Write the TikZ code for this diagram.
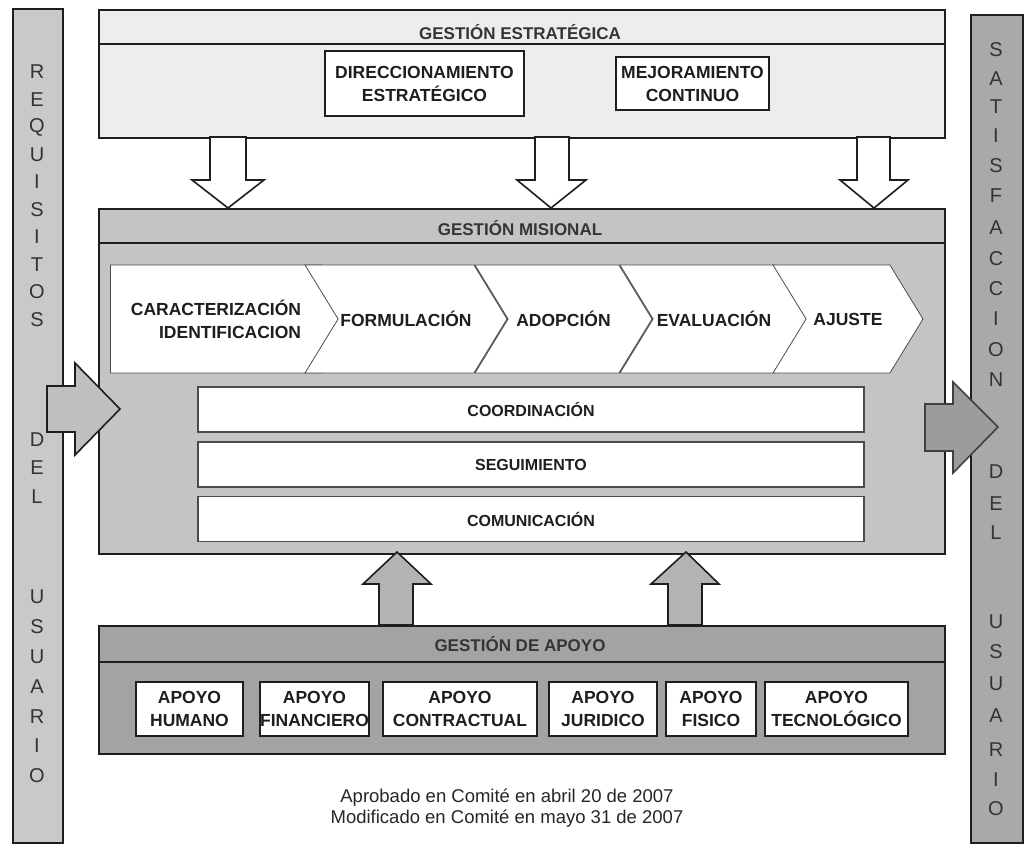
\documentclass[tikz,border=0pt]{standalone}
\usepackage{fontspec}
\setmainfont{Liberation Sans}
\usepackage{tikz}
\usetikzlibrary{shapes.symbols}

\definecolor{panelgray}{HTML}{EDEDED}
\definecolor{misgray}{HTML}{C4C4C4}
\definecolor{apogray}{HTML}{A3A3A3}
\definecolor{leftgray}{HTML}{C9C9C9}
\definecolor{rightgray}{HTML}{A9A9A9}
\definecolor{upgray}{HTML}{B3B3B3}
\definecolor{outgray}{HTML}{9C9C9C}
\definecolor{inkgray}{HTML}{1E1E1E}

\begin{document}
\begin{tikzpicture}[
  x=1pt, y=-1pt,
  panel/.style={
    rectangle, draw=inkgray, line width=2pt,
    anchor=north west, inner sep=0pt
  },
  card/.style={
    rectangle, draw=inkgray, line width=1.2pt, fill=white,
    inner sep=0pt, align=center, text=inkgray,
    font=\bfseries\fontsize{17.5}{23}\selectfont
  },
  bar/.style={
    rectangle, draw=inkgray!80, line width=1.2pt, fill=white,
    inner sep=0pt, minimum width=666, minimum height=45,
    text=inkgray, font=\bfseries\fontsize{16}{19}\selectfont
  },
  chev/.style={
    signal, signal to=east, signal pointer angle=117,
    draw=black!70, line width=0.8pt, fill=white,
    minimum height=108, inner sep=0pt, align=right, text=inkgray,
    font=\bfseries\fontsize{17.5}{23}\selectfont
  },
  ttl/.style={anchor=base, text=inkgray!90, font=\bfseries\fontsize{17}{20}\selectfont},
  letter/.style={text=black!80, font=\fontsize{20}{22}\selectfont, inner sep=0pt},
  blockarr/.style={draw=inkgray, line width=1.6pt, line join=miter},
  note/.style={anchor=base, text=black!85, font=\fontsize{18.5}{22}\selectfont}
]
\useasboundingbox (0,0) rectangle (1031,846);

% side bars
\node[panel, fill=leftgray, line width=1.5pt, minimum width=50, minimum height=834] (reqbar) at (12,8) {};
\node[panel, fill=rightgray, line width=1.5pt, minimum width=52, minimum height=828] (satbar) at (970,14) {};
\foreach \ly/\lc in {72/R,100/E,127/Q,155/U,182/I,210/S,237/I,265/T,292/O,320/S,
                     440/D,468/E,497/L,597/U,627/S,657/U,687/A,717/R,746/I,776/O}
  \node[letter] (req\ly) at (37,\ly) {\lc};
\foreach \ly/\lc in {50/S,79/A,107/T,136/I,166/S,196/F,228/A,259/C,289/C,319/I,350/O,380/N,
                     472/D,504/E,533/L,622/U,652/S,684/U,716/A,750/R,780/I,809/O}
  \node[letter] (sat\ly) at (996,\ly) {\lc};

% gestion estrategica
\node[panel, fill=panelgray, minimum width=846, minimum height=128] (estrategica) at (98,9) {};
\draw[line width=1.6pt, draw=inkgray] (98,44) -- (944,44);
\node[ttl] (estrategicaT) at (520,39) {GESTIÓN ESTRATÉGICA};
\node[card, minimum width=199, minimum height=65] (direcc) at (424.5,83.5) {DIRECCIONAMIENTO\\ESTRATÉGICO};
\node[card, minimum width=153, minimum height=53] (mejora) at (692.5,83.5) {MEJORAMIENTO\\CONTINUO};

% gestion misional
\node[panel, fill=misgray, minimum width=846, minimum height=345] (misional) at (98,208) {};
\draw[line width=1.6pt, draw=inkgray] (98,243) -- (944,243);
\node[ttl] (misionalT) at (520,235) {GESTIÓN MISIONAL};

\node[chev, minimum width=244] (caract) at (216,319) {CARACTERIZACIÓN\\IDENTIFICACION};
\node[chev, signal from=west, minimum width=202] (formul) at (406,319) {FORMULACIÓN};
\node[chev, signal from=west, minimum width=177] (adopc) at (563.5,319) {ADOPCIÓN};
\node[chev, signal from=west, minimum width=188] (evalua) at (714,319) {EVALUACIÓN};
\node[chev, signal from=west, minimum width=150] (ajuste) at (848,319) {AJUSTE};

\node[bar] (coord) at (531,409.5) {COORDINACIÓN};
\node[bar] (segui) at (531,464.5) {SEGUIMIENTO};
\node[bar] (comun) at (531,519) {COMUNICACIÓN};

% gestion de apoyo
\node[panel, fill=apogray, minimum width=846, minimum height=128] (apoyo) at (98,625) {};
\draw[line width=1.6pt, draw=inkgray] (98,662) -- (944,662);
\node[ttl] (apoyoT) at (520,651) {GESTIÓN DE APOYO};
\node[card, minimum width=107, minimum height=54] (humano) at (189.5,709) {APOYO\\HUMANO};
\node[card, minimum width=109, minimum height=54] (financ) at (314.5,709) {APOYO\\FINANCIERO};
\node[card, minimum width=154, minimum height=54] (contra) at (460,709) {APOYO\\CONTRACTUAL};
\node[card, minimum width=108, minimum height=54] (juridi) at (603,709) {APOYO\\JURIDICO};
\node[card, minimum width=90, minimum height=54] (fisico) at (711,709) {APOYO\\FISICO};
\node[card, minimum width=143, minimum height=54] (tecno) at (836.5,709) {APOYO\\TECNOLÓGICO};

% down arrows
\draw[blockarr, fill=white] (210,137) -- (246,137) -- (246,180) -- (264,180) -- (228,208) -- (192,180) -- (210,180) -- cycle;
\draw[blockarr, fill=white] (535,137) -- (569,137) -- (569,180) -- (586,180) -- (551,208) -- (517,180) -- (535,180) -- cycle;
\draw[blockarr, fill=white] (857,137) -- (890,137) -- (890,180) -- (908,180) -- (874,208) -- (840,180) -- (857,180) -- cycle;

% up arrows
\draw[blockarr, fill=upgray] (379,625) -- (379,584) -- (363,584) -- (397,552) -- (431,584) -- (413,584) -- (413,625) -- cycle;
\draw[blockarr, fill=upgray] (668,625) -- (668,584) -- (651,584) -- (686,552) -- (719,584) -- (702,584) -- (702,625) -- cycle;

% side arrows
\draw[blockarr, fill=leftgray!95!black] (47,386) -- (75,386) -- (75,363) -- (120,409) -- (75,455) -- (75,432) -- (47,432) -- cycle;
\draw[blockarr, draw=black!75, fill=outgray] (925,404) -- (953,404) -- (953,382) -- (998,427) -- (953,473) -- (953,451) -- (925,451) -- cycle;

% footer
\node[note] (aprobado) at (507,802) {Aprobado en Comité en abril 20 de 2007};
\node[note] (modific) at (507,823) {Modificado en Comité en mayo 31 de 2007};
\end{tikzpicture}
\end{document}
